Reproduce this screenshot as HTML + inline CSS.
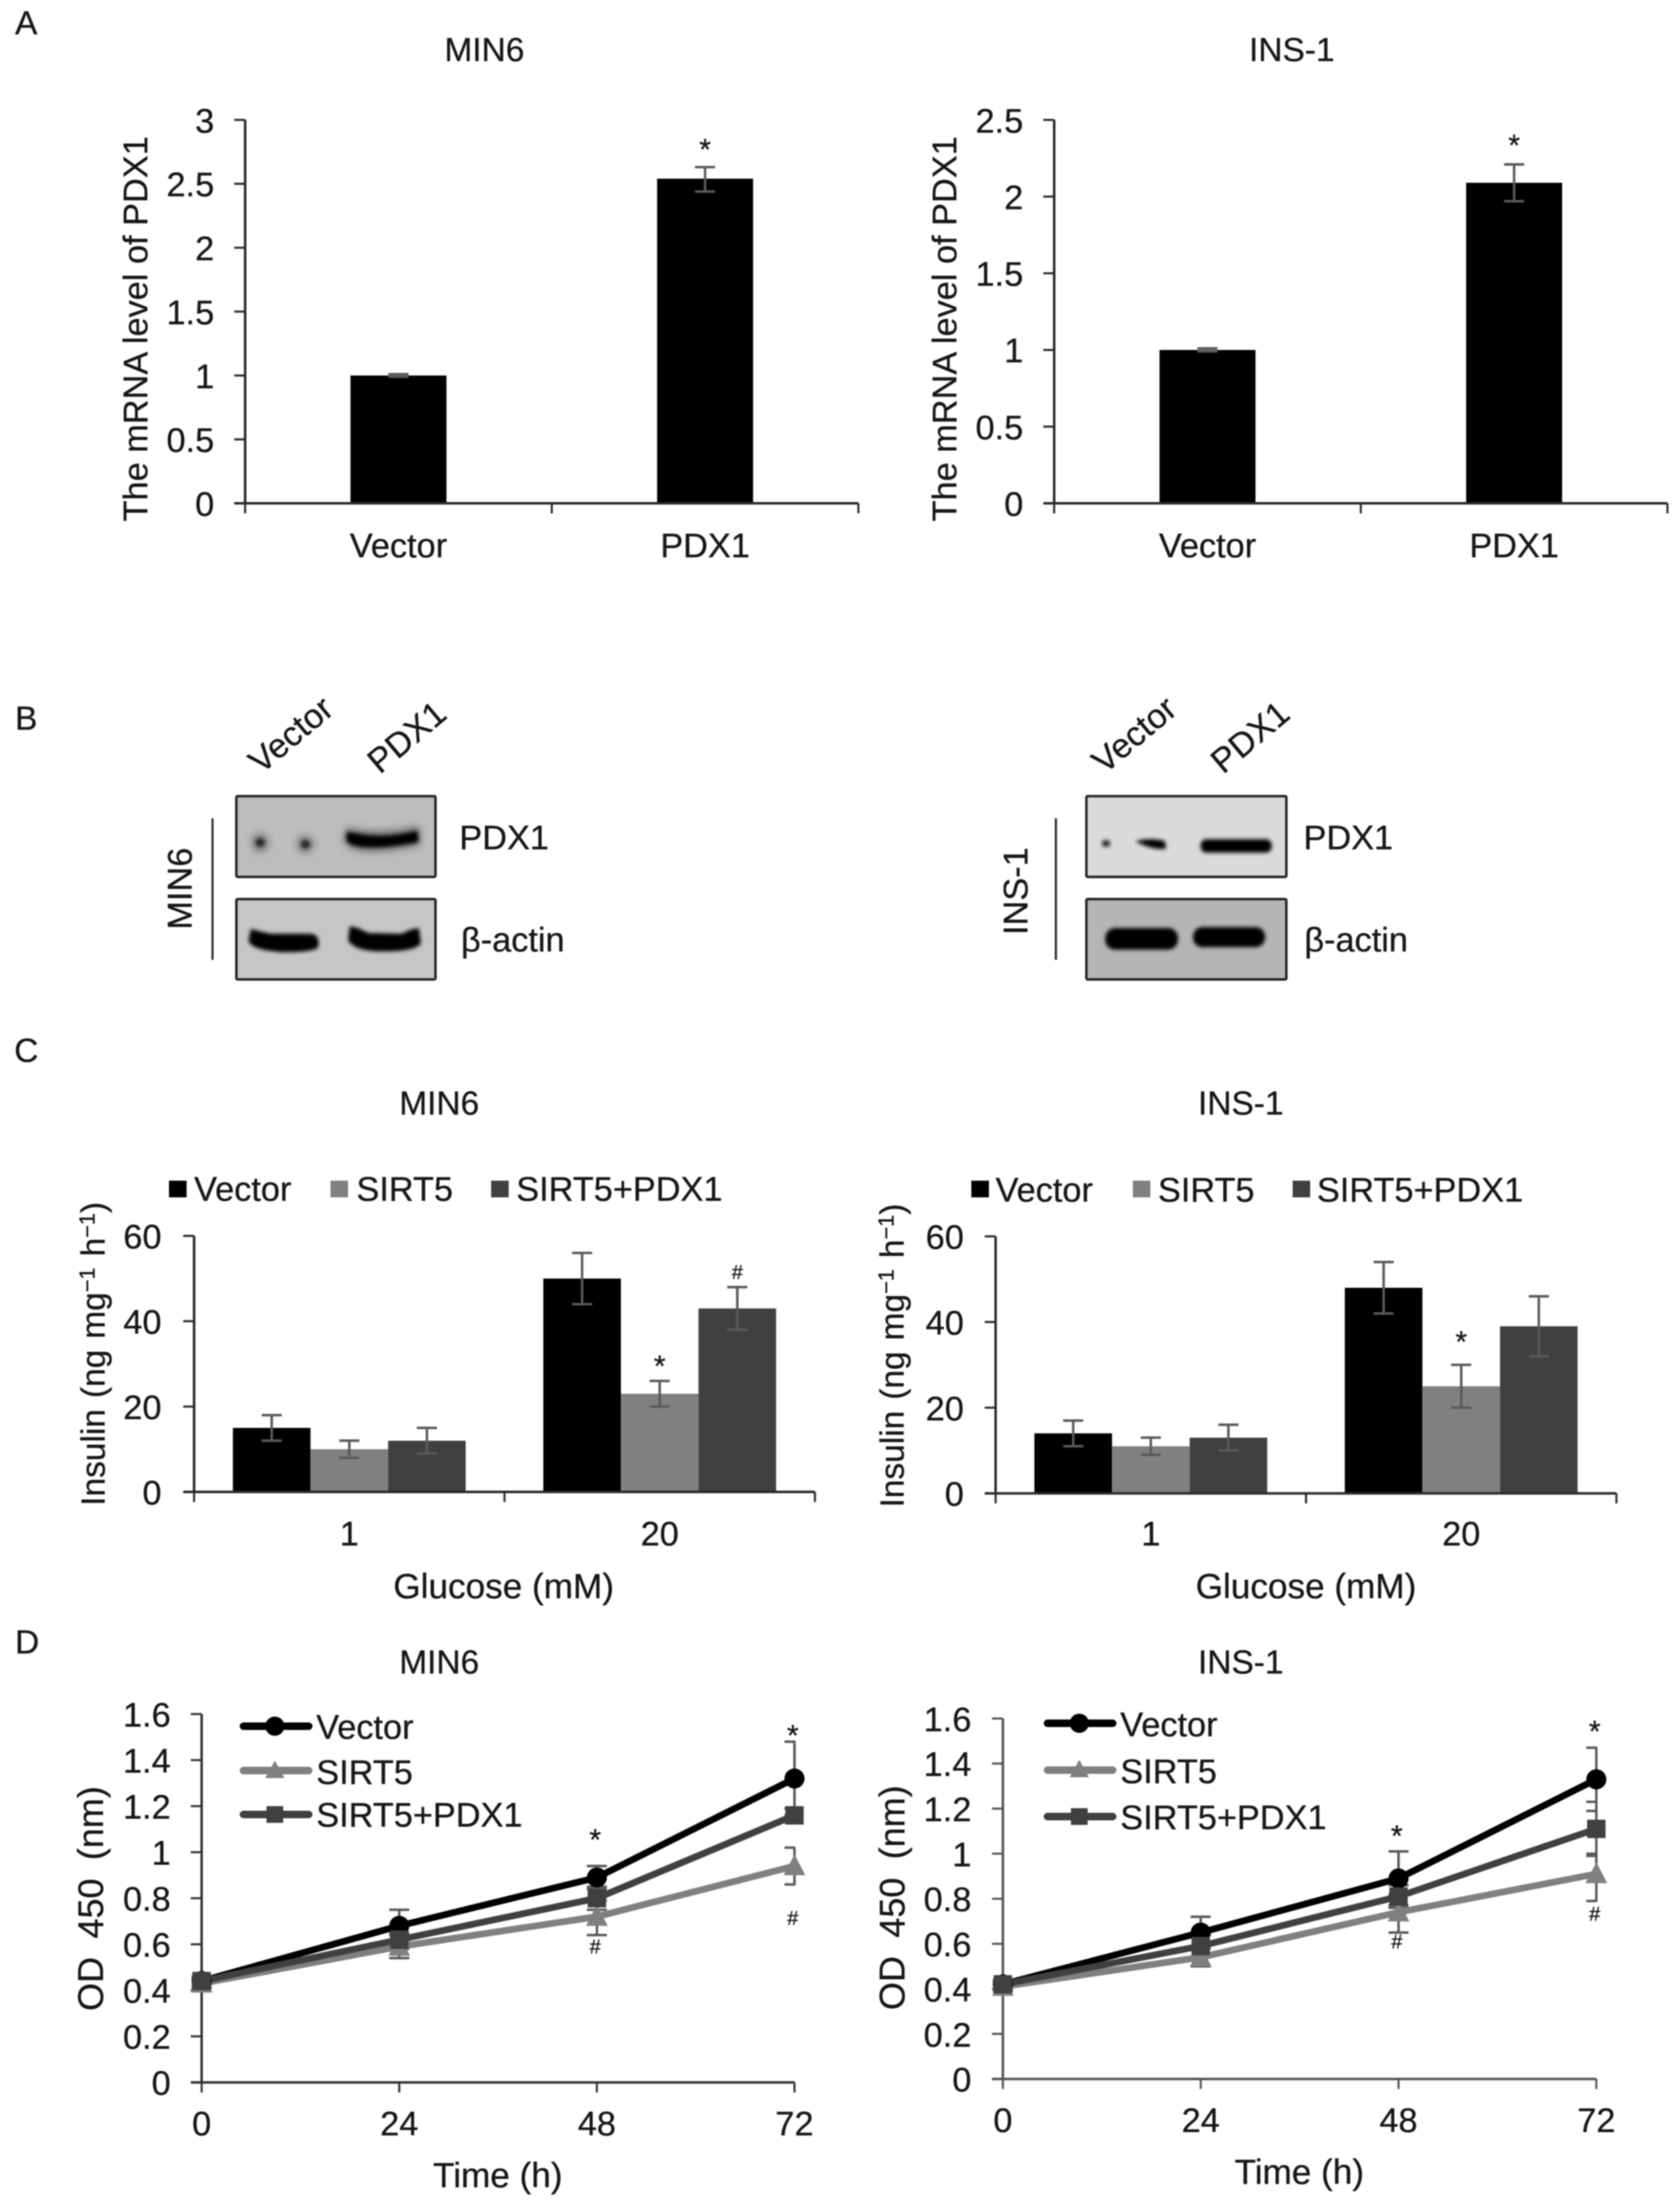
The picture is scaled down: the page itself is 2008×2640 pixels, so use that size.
<!DOCTYPE html>
<html lang="en">
<head>
<meta charset="utf-8">
<title>PDX1 figure</title>
<style>
html,body{margin:0;padding:0;background:#fff}
svg{display:block;filter:blur(0.7px)}
text{font-family:"Liberation Sans",Arial,sans-serif;fill:#161616;stroke:#161616;stroke-width:.35px;font-size:41px}
.title{font-size:40px;text-anchor:middle}
.letter{font-size:40px}
</style>
</head>
<body>
<svg id="figure" xmlns="http://www.w3.org/2000/svg" width="2008" height="2640" viewBox="0 0 2008 2640">
<defs>
<filter id="b2" x="-30%" y="-60%" width="160%" height="220%"><feGaussianBlur stdDeviation="2.5"/></filter>
<filter id="b4" x="-40%" y="-80%" width="180%" height="260%"><feGaussianBlur stdDeviation="5"/></filter>
</defs>
<rect width="2008" height="2640" fill="#fff"/>

<!-- Panel A -->
<text class="letter" x="18" y="41">A</text>
<text class="title" x="579" y="73">MIN6</text>
<text class="title" x="1544" y="73">INS-1</text>
<text x="176" y="0" text-anchor="middle" transform="rotate(-90 176 393) translate(0 393)">The mRNA level of PDX1</text>
<text x="1143" y="0" text-anchor="middle" transform="rotate(-90 1143 393) translate(0 393)">The mRNA level of PDX1</text>

<!-- Panel B -->
<text class="letter" x="18" y="872">B</text>
<text transform="translate(312 926) rotate(-40)" font-size="40">Vector</text>
<text transform="translate(454 926) rotate(-40)" font-size="40">PDX1</text>
<line x1="254" y1="978" x2="254" y2="1147" stroke="#222" stroke-width="2.5"/>
<text transform="translate(229 1062) rotate(-90)" text-anchor="middle">MIN6</text>
<g>
<rect x="282.5" y="951.5" width="238" height="96.5" fill="#bdbdbd" stroke="#262626" stroke-width="3" rx="1.5"/>
<path d="M414 990 Q455 1000 500 988 L502 1009 Q460 1018 436 1016 Q414 1014 412 1004 Z" fill="#555" filter="url(#b4)"/>
<ellipse cx="311" cy="1007" rx="10" ry="11" fill="#777" filter="url(#b4)"/>
<ellipse cx="365" cy="1009" rx="10" ry="10" fill="#777" filter="url(#b4)"/>
<ellipse cx="311" cy="1007" rx="5.5" ry="5" fill="#222" filter="url(#b2)"/>
<ellipse cx="365" cy="1009" rx="5.5" ry="5" fill="#222" filter="url(#b2)"/>
<path d="M415 994 Q455 1005 499 993 L500 1006 Q460 1014 436 1012 Q416 1011 414 1003 Z" fill="#030303" filter="url(#b2)"/>
</g>
<g>
<rect x="282.5" y="1074.5" width="238" height="96" fill="#c6c6c6" stroke="#262626" stroke-width="3" rx="1.5"/>
<path d="M300 1110 Q312 1114 325 1116 L370 1116 Q380 1116 381 1126 L380 1133 Q372 1138 340 1138 Q300 1136 297 1124 Z" fill="#040404" filter="url(#b2)"/>
<path d="M418 1107 Q428 1108 440 1115 L480 1116 Q495 1108 501 1110 L503 1128 Q495 1137 460 1137 Q425 1138 416 1124 Z" fill="#040404" filter="url(#b2)"/>
</g>
<text x="549" y="1015">PDX1</text>
<text x="551" y="1137">β-actin</text>

<text transform="translate(1320 926) rotate(-40)" font-size="40">Vector</text>
<text transform="translate(1462 926) rotate(-40)" font-size="40">PDX1</text>
<line x1="1262" y1="978" x2="1262" y2="1147" stroke="#222" stroke-width="2.5"/>
<text transform="translate(1228 1065) rotate(-90)" text-anchor="middle">INS-1</text>
<g>
<rect x="1298.5" y="951.5" width="239" height="96.5" fill="#dadada" stroke="#262626" stroke-width="3" rx="1.5"/>
<ellipse cx="1322" cy="1008" rx="5" ry="4" fill="#1a1a1a" filter="url(#b2)"/>
<path d="M1358 1005 Q1376 1001 1392 1005 L1394 1014 Q1380 1017 1358 1006 Z" fill="#060606" filter="url(#b2)"/>
<rect x="1435" y="1003" width="85" height="16" rx="7" fill="#030303" filter="url(#b2)"/>
</g>
<g>
<rect x="1298.5" y="1074.5" width="239" height="96" fill="#b5b5b5" stroke="#262626" stroke-width="3" rx="1.5"/>
<rect x="1321" y="1109" width="87" height="26" rx="12" fill="#030303" filter="url(#b2)"/>
<rect x="1426" y="1108" width="86" height="24" rx="11" fill="#030303" filter="url(#b2)"/>
</g>
<text x="1558" y="1015">PDX1</text>
<text x="1559" y="1137">β-actin</text>

<!-- Panel C -->
<text class="letter" x="17" y="1269">C</text>
<text class="title" x="525" y="1332">MIN6</text>
<text class="title" x="1483" y="1332">INS-1</text>
<g>
<rect x="202" y="1411" width="21" height="20" fill="#000"/>
<text x="232" y="1435">Vector</text>
<rect x="395" y="1411" width="21" height="20" fill="#808080"/>
<text x="426" y="1435">SIRT5</text>
<rect x="587" y="1411" width="21" height="20" fill="#404040"/>
<text x="617" y="1435">SIRT5+PDX1</text>
</g>
<g>
<rect x="1161" y="1411" width="21" height="20" fill="#000"/>
<text x="1190" y="1436">Vector</text>
<rect x="1354" y="1411" width="21" height="20" fill="#808080"/>
<text x="1384" y="1436">SIRT5</text>
<rect x="1545" y="1411" width="21" height="20" fill="#404040"/>
<text x="1574" y="1436">SIRT5+PDX1</text>
</g>
<text transform="translate(125 1618) rotate(-90)" text-anchor="middle" style="font-size:40px;word-spacing:2px">Insulin (ng mg<tspan dy="-12" style="font-size:26px">−1</tspan><tspan dy="12"> h</tspan><tspan dy="-12" style="font-size:26px">−1</tspan><tspan dy="12">)</tspan></text>
<text transform="translate(1080 1620) rotate(-90)" text-anchor="middle" style="font-size:40px;word-spacing:2px">Insulin (ng mg<tspan dy="-12" style="font-size:26px">−1</tspan><tspan dy="12"> h</tspan><tspan dy="-12" style="font-size:26px">−1</tspan><tspan dy="12">)</tspan></text>
<text x="602" y="1910" text-anchor="middle" style="font-size:42px">Glucose (mM)</text>
<text x="1561" y="1910" text-anchor="middle" style="font-size:42px">Glucose (mM)</text>

<!-- Panel D -->
<text class="letter" x="18" y="1976">D</text>
<text class="title" x="525" y="2000">MIN6</text>
<text class="title" x="1483" y="2000">INS-1</text>
<text transform="translate(123 2269) rotate(-90)" text-anchor="middle" style="font-size:43px;word-spacing:10px">OD 450 (nm)</text>
<text transform="translate(1081 2268) rotate(-90)" text-anchor="middle" style="font-size:43px;word-spacing:10px">OD 450 (nm)</text>
<text x="595" y="2614" text-anchor="middle" style="font-size:42px">Time (h)</text>
<text x="1553" y="2610" text-anchor="middle" style="font-size:42px">Time (h)</text>

<g id="chart-layer"></g>

<g>
<line x1="291" y1="2063" x2="369" y2="2063" stroke="#000" stroke-width="9" stroke-linecap="round"/>
<circle cx="328.5" cy="2063" r="11.5" fill="#000"/>
<text x="378" y="2078">Vector</text>
<line x1="291" y1="2116" x2="369" y2="2116" stroke="#808080" stroke-width="9" stroke-linecap="round"/>
<polygon points="328.5,2104 340,2125 317,2125" fill="#808080"/>
<text x="378" y="2132">SIRT5</text>
<line x1="291" y1="2168.5" x2="369" y2="2168.5" stroke="#404040" stroke-width="9" stroke-linecap="round"/>
<rect x="318.5" y="2158.5" width="20" height="20" fill="#404040"/>
<text x="378" y="2183">SIRT5+PDX1</text>
</g>
<g>
<line x1="1252" y1="2059.5" x2="1330" y2="2059.5" stroke="#000" stroke-width="9" stroke-linecap="round"/>
<circle cx="1290" cy="2059.5" r="11.5" fill="#000"/>
<text x="1339" y="2075">Vector</text>
<line x1="1252" y1="2115.5" x2="1330" y2="2115.5" stroke="#808080" stroke-width="9" stroke-linecap="round"/>
<polygon points="1290,2103 1301.5,2124 1278.5,2124" fill="#808080"/>
<text x="1339" y="2131">SIRT5</text>
<line x1="1252" y1="2171" x2="1330" y2="2171" stroke="#404040" stroke-width="9" stroke-linecap="round"/>
<rect x="1280" y="2161" width="20" height="20" fill="#404040"/>
<text x="1339" y="2186">SIRT5+PDX1</text>
</g>
</svg>

<script>
// ---- Panel A data ----
const aCategories = ['Vector', 'PDX1'];
const aMin6Values = [1, 2.54];
const aMin6High = [1.01, 2.63];
const aMin6Low = [0.99, 2.44];
const aIns1Values = [1, 2.09];
const aIns1High = [1.01, 2.21];
const aIns1Low = [0.99, 1.97];
const aMin6Ticks = [0, 0.5, 1, 1.5, 2, 2.5, 3];
const aIns1Ticks = [0, 0.5, 1, 1.5, 2, 2.5];
const aMin6StarValues = [null, 2.825];
const aIns1StarValues = [null, 2.38];

// ---- Panel C data ----
const cCategories = ['1', '20'];
const cTicks = [0, 20, 40, 60];
const cMin6Vector = [15, 50];
const cMin6VectorHigh = [18, 56];
const cMin6VectorLow = [12, 44];
const cMin6Sirt5 = [10, 23];
const cMin6Sirt5High = [12, 26];
const cMin6Sirt5Low = [8, 20];
const cMin6Combo = [12, 43];
const cMin6ComboHigh = [15, 48];
const cMin6ComboLow = [9, 38];
const cMin6StarValues = [null, 31.2];
const cMin6HashValues = [null, 51.6];
const cIns1Vector = [14, 48];
const cIns1VectorHigh = [17, 54];
const cIns1VectorLow = [11, 42];
const cIns1Sirt5 = [11, 25];
const cIns1Sirt5High = [13, 30];
const cIns1Sirt5Low = [9, 20];
const cIns1Combo = [13, 39];
const cIns1ComboHigh = [16, 46];
const cIns1ComboLow = [10, 32];
const cIns1StarValues = [null, 37];

// ---- Panel D data ----
const dTimes = [0, 24, 48, 72];
const dTicks = [0, 0.2, 0.4, 0.6, 0.8, 1, 1.2, 1.4, 1.6];
const dMin6Vector = [0.44, 0.68, 0.89, 1.32];
const dMin6VectorHigh = [0.46, 0.75, 0.94, 1.48];
const dMin6VectorLow = [0.42, 0.61, 0.84, 1.16];
const dMin6Sirt5 = [0.43, 0.59, 0.72, 0.94];
const dMin6Sirt5High = [0.45, 0.64, 0.79, 1.02];
const dMin6Sirt5Low = [0.41, 0.54, 0.64, 0.86];
const dMin6Combo = [0.44, 0.62, 0.8, 1.16];
const dMin6ComboHigh = [0.46, 0.65, 0.85, 1.19];
const dMin6ComboLow = [0.42, 0.58, 0.75, 1.13];
const dMin6StarValues = [null, null, 1.086, 1.537];
const dMin6HashValues = [null, null, 0.592, 0.715];
const dIns1Vector = [0.42, 0.65, 0.89, 1.33];
const dIns1VectorHigh = [0.44, 0.72, 1.01, 1.47];
const dIns1VectorLow = [0.4, 0.58, 0.77, 1.19];
const dIns1Sirt5 = [0.41, 0.54, 0.74, 0.91];
const dIns1Sirt5High = [0.43, 0.58, 0.82, 1.0];
const dIns1Sirt5Low = [0.39, 0.5, 0.65, 0.79];
const dIns1Combo = [0.42, 0.59, 0.81, 1.11];
const dIns1ComboHigh = [0.44, 0.64, 0.86, 1.23];
const dIns1ComboLow = [0.4, 0.54, 0.76, 0.99];
const dIns1StarValues = [null, null, 1.111, 1.575];
const dIns1HashValues = [null, null, 0.611, 0.734];

const SVG_NS = 'http://www.w3.org/2000/svg';
const layer = document.getElementById('chart-layer');
const ERR_COLOR = '#5a5a5a';
const SERIES_COLORS = ['#000000', '#808080', '#404040'];

function make(tag, parent, attrs, text) {
  const node = document.createElementNS(SVG_NS, tag);
  for (const k in attrs) node.setAttribute(k, attrs[k]);
  if (text !== undefined) node.textContent = text;
  parent.appendChild(node);
  return node;
}

function yAxisScale(frame) {
  return function (v) {
    return frame.y0 - (v / frame.yMax) * (frame.y0 - frame.yTop);
  };
}
function bandCenter(frame, i, n) {
  return frame.x0 + ((i + 0.5) * (frame.x1 - frame.x0)) / n;
}
function timeScale(frame, tMax) {
  return function (t) {
    return frame.x0 + (t / tMax) * (frame.x1 - frame.x0);
  };
}

function drawYAxis(frame, ticks) {
  const y = yAxisScale(frame);
  let el = make('line', layer, { x1: frame.x0, y1: y(frame.yMax), x2: frame.x0, y2: frame.y0, stroke: frame.axisColor, 'stroke-width': 3 });
  
  
  ticks.forEach(function (t) {
    el = make('line', layer, { x1: frame.x0 - 13, y1: y(t), x2: frame.x0, y2: y(t), stroke: frame.axisColor, 'stroke-width': 2.5 });
    
    
    el = make('text', layer, { x: frame.tickRight, y: y(t) + 15, 'text-anchor': 'end' }, String(t));
    
    
  });
}

function drawXAxisLine(frame, positions) {
  let el = make('line', layer, { x1: frame.x0 - 13, y1: frame.y0, x2: frame.x1, y2: frame.y0, stroke: frame.axisColor, 'stroke-width': 3 });
  
  
  positions.forEach(function (px) {
    el = make('line', layer, { x1: px, y1: frame.y0, x2: px, y2: frame.y0 + 12, stroke: frame.axisColor, 'stroke-width': 2.5 });
    
    
  });
}

function drawCategoryLabels(frame, labels, positions) {
  labels.forEach(function (label, i) {
    const el = make('text', layer, { x: positions[i], y: frame.labelY, 'text-anchor': 'middle' }, String(label));
    
    
  });
}

function drawErrorBar(frame, px, hi, lo, width, clipRight) {
  const right = clipRight ? Math.min(px + width, frame.x1 + 1) : px + width;
  const d = 'M' + (px - width) + ' ' + hi + 'H' + right + 'M' + px + ' ' + hi + 'V' + lo + 'M' + (px - width) + ' ' + lo + 'H' + right;
  const el = make('path', layer, { d: d, fill: 'none', stroke: ERR_COLOR, 'stroke-width': 3 });
  
  
}

function drawAnnotation(px, py, glyph) {
  const size = glyph === '*' ? 36 : 24;
  const shift = glyph === '*' ? 0.58 : 0.36;
  const el = make('text', layer, { x: px, y: py + size * shift, 'text-anchor': 'middle', style: 'font-size:' + size + 'px' }, glyph);
  
  
}

function drawBarChart(frame, categories, ticks, values, highs, lows, barFrac, marks) {
  const y = yAxisScale(frame);
  const n = categories.length;
  const band = (frame.x1 - frame.x0) / n;
  const barW = band * barFrac;
  const count = values.length;
  const edges = [];
  for (let i = 0; i <= n; i++) edges.push(frame.x0 + i * band);
  values.forEach(function (series, s) {
    series.forEach(function (v, i) {
      const left = bandCenter(frame, i, n) - (count * barW) / 2 + s * barW;
      const el = make('rect', layer, { x: left, y: y(v), width: barW, height: frame.y0 - y(v), fill: SERIES_COLORS[s] });
      
      
    });
  });
  values.forEach(function (series, s) {
    series.forEach(function (v, i) {
      const left = bandCenter(frame, i, n) - (count * barW) / 2 + s * barW;
      drawErrorBar(frame, left + barW / 2, y(highs[s][i]), y(lows[s][i]), 12, false);
    });
  });
  drawYAxis(frame, ticks);
  drawXAxisLine(frame, edges);
  drawCategoryLabels(frame, categories, categories.map(function (c, i) { return bandCenter(frame, i, n); }));
  marks.forEach(function (mark) {
    mark.values.forEach(function (v, i) {
      if (v === null) return;
      const px = bandCenter(frame, i, n) - (count * barW) / 2 + mark.series * barW + barW / 2;
      drawAnnotation(px, y(v), mark.glyph);
    });
  });
}

function drawLineChart(frame, times, ticks, values, highs, lows, marks) {
  const y = yAxisScale(frame);
  const x = timeScale(frame, times[times.length - 1]);
  drawXAxisLine(frame, times.map(x));
  drawYAxis(frame, ticks);
  drawCategoryLabels(frame, times, times.map(x));
  [0, 1, 2].forEach(function (s) {
    times.forEach(function (t, i) {
      drawErrorBar(frame, x(t), y(highs[s][i]), y(lows[s][i]), 12, true);
    });
  });
  values.forEach(function (series, s) {
    const pts = series.map(function (v, i) { return x(times[i]) + ',' + y(v); }).join(' ');
    const el = make('polyline', layer, { points: pts, fill: 'none', stroke: SERIES_COLORS[s], 'stroke-width': 8, 'stroke-linejoin': 'round' });
    
    
  });
  values.forEach(function (series, s) {
    series.forEach(function (v, i) {
      const cx = x(times[i]);
      const cy = y(v);
      let el;
      if (s === 0) {
        el = make('circle', layer, { cx: cx, cy: cy, r: 12, fill: SERIES_COLORS[s] });
      } else if (s === 1) {
        el = make('polygon', layer, { points: cx + ',' + (cy - 14) + ' ' + (cx + 13) + ',' + (cy + 11) + ' ' + (cx - 13) + ',' + (cy + 11), fill: SERIES_COLORS[s] });
      } else {
        el = make('rect', layer, { x: cx - 11, y: cy - 11, width: 22, height: 22, fill: SERIES_COLORS[s] });
      }
      
      
    });
  });
  marks.forEach(function (mark) {
    mark.values.forEach(function (v, i) {
      if (v === null) return;
      drawAnnotation(x(times[i]) - 2, y(v), mark.glyph);
    });
  });
}

drawBarChart(
  { x0: 293, x1: 1026, yTop: 143.3, y0: 601.5, yMax: 3, tickRight: 256, labelY: 666, axisColor: '#2a2a2a' },
  aCategories, aMin6Ticks, [aMin6Values], [aMin6High], [aMin6Low], 0.313,
  [{ glyph: '*', series: 0, values: aMin6StarValues }]
);
drawBarChart(
  { x0: 1260, x1: 1993, yTop: 143.3, y0: 601.5, yMax: 2.5, tickRight: 1223, labelY: 666, axisColor: '#2a2a2a' },
  aCategories, aIns1Ticks, [aIns1Values], [aIns1High], [aIns1Low], 0.313,
  [{ glyph: '*', series: 0, values: aIns1StarValues }]
);
drawBarChart(
  { x0: 232, x1: 974, yTop: 1477, y0: 1783, yMax: 60, tickRight: 193, labelY: 1847, axisColor: '#2a2a2a' },
  cCategories, cTicks,
  [cMin6Vector, cMin6Sirt5, cMin6Combo],
  [cMin6VectorHigh, cMin6Sirt5High, cMin6ComboHigh],
  [cMin6VectorLow, cMin6Sirt5Low, cMin6ComboLow], 0.25,
  [{ glyph: '*', series: 1, values: cMin6StarValues }, { glyph: '#', series: 2, values: cMin6HashValues }]
);
drawBarChart(
  { x0: 1190, x1: 1932, yTop: 1477.6, y0: 1784.7, yMax: 60, tickRight: 1152, labelY: 1847, axisColor: '#2a2a2a' },
  cCategories, cTicks,
  [cIns1Vector, cIns1Sirt5, cIns1Combo],
  [cIns1VectorHigh, cIns1Sirt5High, cIns1ComboHigh],
  [cIns1VectorLow, cIns1Sirt5Low, cIns1ComboLow], 0.25,
  [{ glyph: '*', series: 1, values: cIns1StarValues }]
);
drawLineChart(
  { x0: 241, x1: 949.6, yTop: 2048.5, y0: 2488.7, yMax: 1.6, tickRight: 204, labelY: 2552, axisColor: '#333' },
  dTimes, dTicks,
  [dMin6Vector, dMin6Sirt5, dMin6Combo],
  [dMin6VectorHigh, dMin6Sirt5High, dMin6ComboHigh],
  [dMin6VectorLow, dMin6Sirt5Low, dMin6ComboLow],
  [{ glyph: '*', values: dMin6StarValues }, { glyph: '#', values: dMin6HashValues }]
);
drawLineChart(
  { x0: 1198.7, x1: 1908, yTop: 2053.8, y0: 2484.6, yMax: 1.6, tickRight: 1161, labelY: 2548, axisColor: '#555' },
  dTimes, dTicks,
  [dIns1Vector, dIns1Sirt5, dIns1Combo],
  [dIns1VectorHigh, dIns1Sirt5High, dIns1ComboHigh],
  [dIns1VectorLow, dIns1Sirt5Low, dIns1ComboLow],
  [{ glyph: '*', values: dIns1StarValues }, { glyph: '#', values: dIns1HashValues }]
);
</script>
</body>
</html>
